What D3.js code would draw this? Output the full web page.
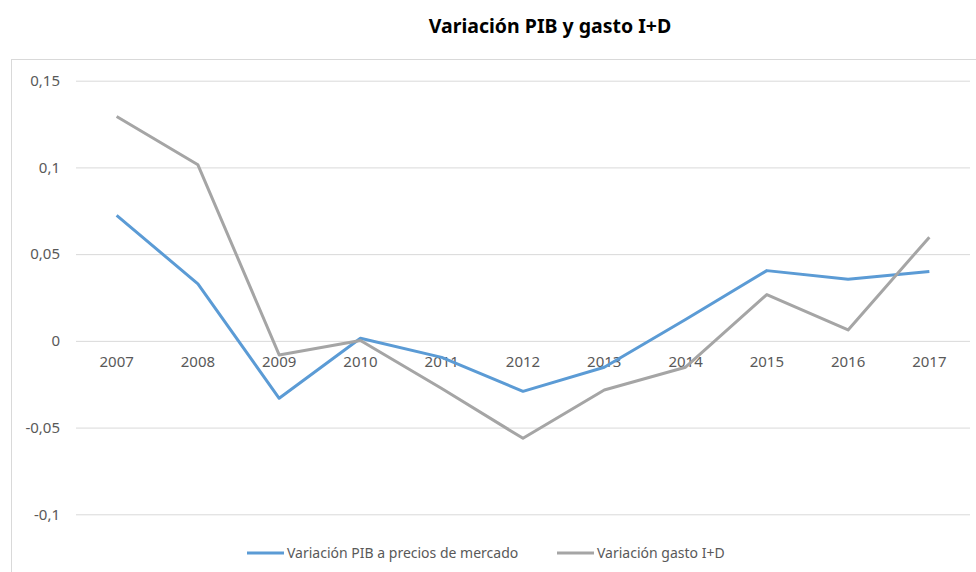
<!DOCTYPE html>
<html lang="es">
<head>
    <meta charset="utf-8">
    <title>Variación PIB y gasto I+D</title>
    <style>
        body {
            margin: 0;
            background: #fff;
        }

        svg {
            display: block;
            font-family: "Noto Sans", "Open Sans", sans-serif;
        }

        .axis text {
            fill: #595959;
            font-family: "Noto Sans", "Open Sans", sans-serif;
            font-size: 15px;
        }
    </style>
</head>
<body>

<svg width="976" height="572"></svg>

<script src="https://d3js.org/d3.v7.min.js"></script>
<script>

    // data
    const years = ["2007", "2008", "2009", "2010", "2011", "2012", "2013", "2014", "2015", "2016", "2017"];
    const pib = [0.0723, 0.0329, -0.0331, 0.0015, -0.0095, -0.0291, -0.0152, 0.0123, 0.0405, 0.0355, 0.0400];
    const gastoID = [0.1294, 0.1015, -0.0081, 0.0002, -0.0275, -0.0562, -0.0283, -0.0152, 0.0267, 0.0063, 0.0598];
    const yTicks = [-0.1, -0.05, 0, 0.05, 0.1, 0.15];
    const seriesNames = ["Variación PIB a precios de mercado", "Variación gasto I+D"];
    const colors = ["#5B9BD5", "#A5A5A5"];

    const svg = d3.select("svg");

    // chart frame (runs off the right and bottom edges)
    svg.append("rect")
        .attr("x", 11.5)
        .attr("y", 59.5)
        .attr("width", 1000)
        .attr("height", 600)
        .attr("fill", "none")
        .attr("stroke", "#D9D9D9");

    // title
    svg.append("text")
        .attr("x", 550)
        .attr("y", 33)
        .attr("text-anchor", "middle")
        .style("font-size", "19.5px")
        .style("font-weight", "bold")
        .style("fill", "#000")
        .text("Variación PIB y gasto I+D");

    const x = d3.scaleBand()
        .domain(years)
        .range([76, 970]);

    // 0.15 -> 80.7, -0.1 -> 514.3
    const y = d3.scaleLinear()
        .domain([-0.1, 0.15])
        .range([514.3, 80.7]);

    const fmt = d => d === 0 ? "0" : String(d).replace(".", ",");

    // gridlines + y labels
    const yAxis = svg.append("g")
        .attr("class", "axis")
        .attr("transform", "translate(76,0)")
        .call(d3.axisLeft(y).tickValues(yTicks).tickFormat(fmt).tickSize(0).tickPadding(16));
    yAxis.select(".domain").remove();
    yAxis.selectAll(".tick line")
        .attr("x2", 894)
        .attr("stroke", "#D9D9D9");

    // category labels sit under the zero line
    const xAxis = svg.append("g")
        .attr("class", "axis")
        .attr("transform", `translate(0,${y(0)})`)
        .call(d3.axisBottom(x).tickSize(0).tickPadding(15));
    xAxis.select(".domain").remove();

    const line = d3.line()
        .x((d, i) => x(years[i]) + x.bandwidth() / 2)
        .y(d => y(d));

    [pib, gastoID].forEach((s, k) => {
        svg.append("path")
            .datum(s)
            .attr("fill", "none")
            .attr("stroke", colors[k])
            .attr("stroke-width", 3)
            .attr("stroke-linejoin", "round")
            .attr("d", line);
    });

    // legend
    const legendX = [247, 557];
    seriesNames.forEach((name, k) => {
        const g = svg.append("g")
            .attr("transform", `translate(${legendX[k]},553)`);
        g.append("line")
            .attr("x1", 0)
            .attr("x2", 37)
            .attr("stroke", colors[k])
            .attr("stroke-width", 3);
        g.append("text")
            .attr("x", 40)
            .attr("dy", "0.35em")
            .style("font-size", "14px")
            .style("fill", "#595959")
            .text(name);
    });

</script>

</body>
</html>
